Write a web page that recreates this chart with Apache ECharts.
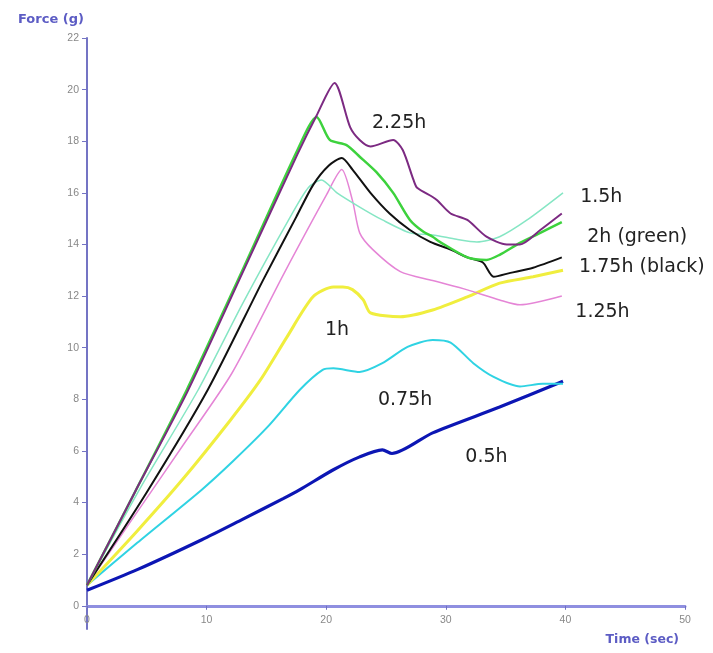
<!DOCTYPE html>
<html><head><meta charset="utf-8">
<script src="https://cdn.jsdelivr.net/npm/echarts@6/dist/echarts.min.js"></script>
<style>html,body{margin:0;padding:0;background:#fff}#c{width:713px;height:653px}</style>
</head><body><div id="c"></div>
<script>
// ---- data (time in sec, force in g) ----
const xTicks = [0, 10, 20, 30, 40, 50];
const yTicks = [0, 2, 4, 6, 8, 10, 12, 14, 16, 18, 20, 22];

const t225 = [0, 4, 8.4, 13, 17.6, 19.2, 20.7, 22.0, 22.8, 23.7, 25.6, 26.4, 27.3, 27.6, 28.9, 29.3, 30.4, 31.8, 33.4, 35.1, 36.2, 37.9, 39.7];
const f225 = [0.8, 4.4, 8.3, 12.9, 17.5, 19.0, 20.26, 18.55, 18.05, 17.8, 18.05, 17.66, 16.5, 16.2, 15.84, 15.7, 15.2, 14.95, 14.3, 14.0, 14.0, 14.56, 15.2];

const t2 = [0, 4, 8.35, 13, 17.6, 19.2, 20.3, 21.7, 22.8, 24.2, 25.6, 27.0, 28.1, 28.9, 29.5, 31.8, 33.4, 34.5, 36.2, 37.9, 39.7];
const f2 = [0.8, 4.4, 8.37, 13.0, 17.66, 18.94, 18.05, 17.85, 17.4, 16.8, 16.0, 14.95, 14.5, 14.3, 14.1, 13.5, 13.4, 13.6, 14.06, 14.45, 14.87];

const t175 = [0, 5, 10.1, 14.7, 17.5, 18.9, 20.2, 21.3, 22.2, 23.7, 25.3, 27.0, 28.7, 30.4, 31.8, 33.1, 34.0, 35.4, 37.3, 39.7];
const f175 = [0.8, 4.4, 8.37, 12.6, 15.07, 16.3, 17.05, 17.35, 16.9, 16.0, 15.2, 14.56, 14.1, 13.8, 13.5, 13.3, 12.75, 12.9, 13.1, 13.5];

const t15 = [0, 4.5, 9.3, 13, 17.0, 18.5, 19.6, 20.9, 22.8, 24.7, 27.0, 28.9, 30.9, 32.6, 34.5, 36.8, 39.8];
const f15 = [0.8, 4.6, 8.37, 11.7, 15.07, 16.2, 16.5, 16.0, 15.45, 14.95, 14.45, 14.37, 14.2, 14.1, 14.3, 14.95, 16.0];

const t125 = [0, 4, 8, 12.1, 16.5, 20, 21.3, 22.2, 22.8, 23.9, 26.2, 28.9, 31.8, 34.5, 36.2, 39.7];
const f125 = [0.8, 3.5, 6.2, 9.0, 12.9, 15.9, 16.9, 15.7, 14.45, 13.8, 12.95, 12.6, 12.24, 11.85, 11.66, 12.0];

const t1 = [0, 4.2, 8, 12, 14.5, 16.7, 18.9, 20.6, 21.4, 22.2, 23.1, 23.7, 26.2, 28.9, 31.8, 34.5, 37.3, 39.8];
const f1 = [0.8, 2.9, 4.9, 7.2, 8.75, 10.4, 11.97, 12.35, 12.35, 12.25, 11.85, 11.35, 11.2, 11.46, 11.97, 12.5, 12.75, 13.0];

const t075 = [0, 4.2, 9.6, 12.2, 15.1, 17.8, 19.7, 20.6, 22.8, 24.7, 26.8, 28.9, 30.4, 32.3, 34.0, 36.2, 38.1, 39.8];
const f075 = [0.8, 2.44, 4.5, 5.6, 6.93, 8.37, 9.14, 9.2, 9.06, 9.4, 10.03, 10.3, 10.2, 9.4, 8.87, 8.5, 8.6, 8.6];

const t05 = [0, 4.2, 9.6, 13, 16.4, 17.8, 20.6, 22.8, 24.7, 25.5, 28.9, 34.5, 39.8];
const f05 = [0.6, 1.4, 2.56, 3.35, 4.15, 4.5, 5.27, 5.77, 6.04, 5.9, 6.7, 7.7, 8.7];

const labelText = ['2.25h', '2h (green)', '1.75h (black)', '1.5h', '1.25h', '1h', '0.75h', '0.5h'];
const labelT = [26.1, 46.0, 46.4, 43.0, 43.1, 20.9, 26.6, 33.4];
const labelF = [18.71, 14.29, 13.13, 15.84, 11.39, 10.69, 7.98, 5.77];

// ---- build ----
const pairs = (t, f) => t.map((v, i) => [v, f[i]]);
const defs = [
  {t: t05, f: f05, color: '#0c16b4', w: 3.2},
  {t: t075, f: f075, color: '#2fd3e3', w: 2},
  {t: t1, f: f1, color: '#f0ee3e', w: 3},
  {t: t125, f: f125, color: '#e585d6', w: 1.5},
  {t: t15, f: f15, color: '#86e6c4', w: 1.5},
  {t: t175, f: f175, color: '#111111', w: 2},
  {t: t2, f: f2, color: '#3dd23d', w: 2.5},
  {t: t225, f: f225, color: '#7c2a82', w: 2}
];
const series = defs.map(d => ({
  type: 'line', data: pairs(d.t, d.f), showSymbol: false, smooth: 0.25,
  lineStyle: {color: d.color, width: d.w}, itemStyle: {color: d.color}, z: 3
}));
series.push({
  type: 'scatter', data: [], silent: true,
  markPoint: {
    symbol: 'circle', symbolSize: 0,
    label: {show: true, position: 'inside', color: '#222', fontFamily: 'DejaVu Sans', fontSize: 19,
            formatter: p => p.name},
    data: labelText.map((s, i) => ({name: s, coord: [labelT[i], labelF[i]]}))
  }
});

const chart = echarts.init(document.getElementById('c'), null, {renderer: 'canvas'});
chart.setOption({
  animation: false,
  backgroundColor: '#ffffff',
  title: [
    {text: 'Force (g)', left: 13, top: 8, textStyle: {fontFamily: 'DejaVu Sans', fontSize: 13, fontWeight: 'bold', color: '#5c5cc4'}},
    {text: 'Time (sec)', right: 29, top: 628, textStyle: {fontFamily: 'DejaVu Sans', fontSize: 12.5, fontWeight: 'bold', color: '#5c5cc4'}}
  ],
  grid: {left: 87, right: 28, top: 38, bottom: 24, containLabel: false},
  xAxis: {
    type: 'value', min: 0, max: 50, interval: 10,
    axisLine: {onZero: true, lineStyle: {color: '#8f8fe0', width: 3}},
    axisTick: {show: true, inside: false, length: 4, lineStyle: {color: '#7070c0'}},
    axisLabel: {color: '#888', fontFamily: 'Liberation Sans', fontSize: 10.5, margin: -14,
                customValues: xTicks},
    splitLine: {show: false}
  },
  yAxis: {
    type: 'value', min: -0.9, max: 22,
    axisLine: {show: true, onZero: false, lineStyle: {color: '#7474c4', width: 2}},
    axisTick: {show: true, length: 5, customValues: yTicks, lineStyle: {color: '#7474c4'}},
    axisLabel: {color: '#888', fontFamily: 'Liberation Sans', fontSize: 10.5, margin: 8, customValues: yTicks},
    splitLine: {show: false}
  },
  series: series
});
</script></body></html>
